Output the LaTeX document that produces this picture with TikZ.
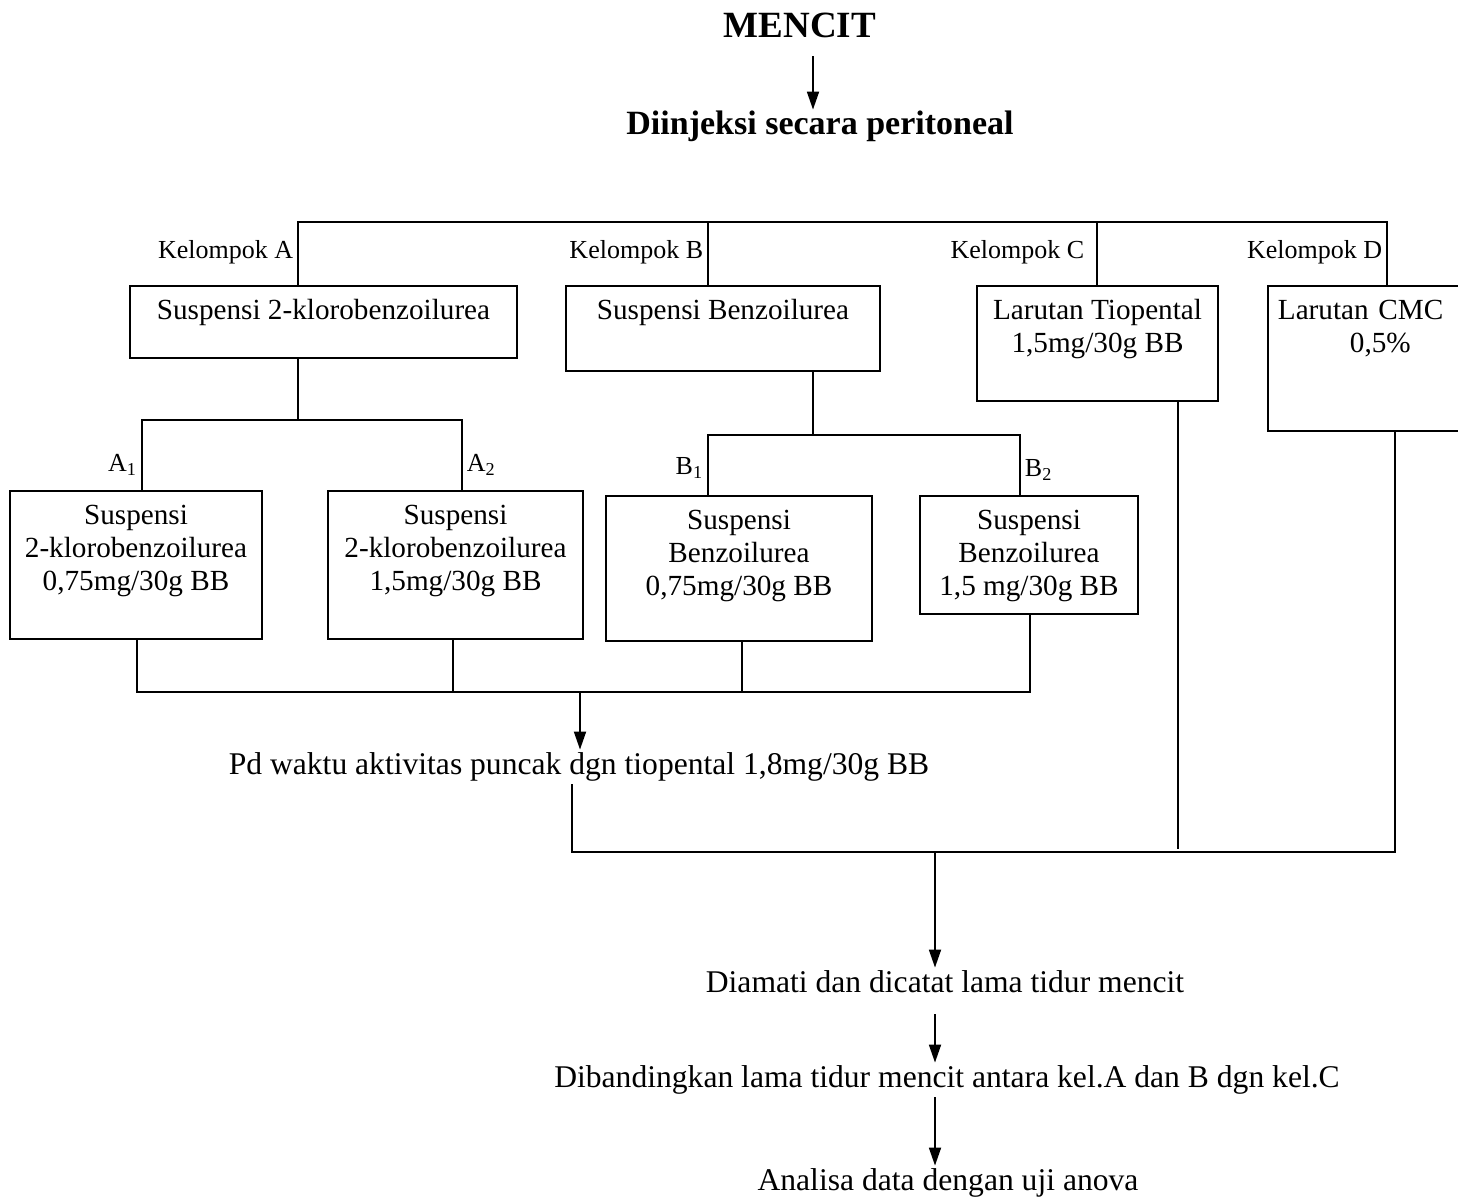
\documentclass[tikz,border=0pt]{standalone}
\usepackage{fontspec}
\setmainfont{Liberation Serif}
\usepackage{tikz}
\usetikzlibrary{arrows.meta}

\begin{document}
\begin{tikzpicture}[x=0.5pt, y=-0.5pt, line width=0.9pt, font=\fontsize{14.6}{16.5}\selectfont,
    box/.style={draw, align=center, anchor=north, inner xsep=5pt, inner ysep=6.5pt, text height=10.5pt},
    twoline/.style={text height=27pt},
    threeline/.style={text height=43.5pt},
    txt/.style={inner sep=1pt, text height=11pt, text depth=3.5pt, font=\fontsize{15.8}{17}\selectfont},
    lbl/.style={font=\fontsize{13}{15}\selectfont, inner sep=2pt, anchor=east},
    arr/.style={-{Triangle[length=9pt, width=6pt]}}]
      \useasboundingbox (0,0) rectangle (1458,1202);

      \node[inner sep=1pt, font=\fontsize{18.5}{20}\selectfont\bfseries] (mencit)    at ( 800,  25) {MENCIT};
      \node[txt, font=\fontsize{17}{19}\selectfont\bfseries]             (diinjeksi) at ( 820, 127) {Diinjeksi secara peritoneal};

      \node[box, minimum width=193.5pt, text depth=12.5pt]            (boxA)  at ( 323.5, 285) {Suspensi 2-klorobenzoilurea};
      \node[box, minimum width=157pt,   text depth=19pt]              (boxB)  at ( 723,   285) {Suspensi Benzoilurea};
      \node[box, twoline, minimum width=120.5pt, text depth=17.5pt]   (boxC)  at (1097.5, 285) {Larutan Tiopental \\ 1,5mg/30g BB};
      \node[box, anchor=north west, text width=110pt, align=left, text depth=49pt]
                                                                      (boxD)  at (1267,   285) {Larutan CMC \\ \hspace*{36pt}0,5\%};

      \node[box, threeline, minimum width=126pt,   text depth=17.5pt] (boxA1) at ( 136,   490) {Suspensi \\ 2-klorobenzoilurea \\ 0,75mg/30g BB};
      \node[box, threeline, minimum width=127.5pt, text depth=17.5pt] (boxA2) at ( 455.5, 490) {Suspensi \\ 2-klorobenzoilurea \\ 1,5mg/30g BB};
      \node[box, threeline, minimum width=133pt,   text depth=16pt]   (boxB1) at ( 739,   495) {Suspensi \\ Benzoilurea \\ 0,75mg/30g BB};
      \node[box, threeline, minimum width=109pt,   text depth=2.5pt]  (boxB2) at (1029,   495) {Suspensi \\ Benzoilurea \\ 1,5 mg/30g BB};

      \node[txt] (pd)           at ( 579,  767) {Pd waktu aktivitas puncak dgn tiopental 1,8mg/30g BB};
      \node[txt] (diamati)      at ( 945,  985) {Diamati dan dicatat lama tidur mencit};
      \node[txt] (dibandingkan) at ( 947, 1080) {Dibandingkan lama tidur mencit antara kel.A dan B dgn kel.C};
      \node[txt] (analisa)      at ( 948, 1183) {Analisa data dengan uji anova};

      \coordinate (busA)   at ( 298, 222);
      \coordinate (busB)   at ( 708, 222);
      \coordinate (busC)   at (1097, 222);
      \coordinate (busD)   at (1387, 222);
      \coordinate (splitA) at ( 298, 420);
      \coordinate (a1top)  at ( 142, 420);
      \coordinate (a2top)  at ( 462, 420);
      \coordinate (splitB) at ( 813, 435);
      \coordinate (b1top)  at ( 708, 435);
      \coordinate (b2top)  at (1020, 435);
      \coordinate (a1bot)  at ( 137, 692);
      \coordinate (a2bot)  at ( 453, 692);
      \coordinate (b1bot)  at ( 742, 692);
      \coordinate (b2bot)  at (1030, 692);
      \coordinate (join1)  at ( 580, 692);
      \coordinate (pdbot)  at ( 572, 852);
      \coordinate (cbot)   at (1178, 849);
      \coordinate (dbot)   at (1395, 852);
      \coordinate (join2)  at ( 935, 852);

      \node[lbl]              (kelA)  at ( 298, 252) {Kelompok A};
      \node[lbl]              (kelB)  at ( 708, 252) {Kelompok B};
      \node[lbl]              (kelC)  at (1089, 252) {Kelompok C};
      \node[lbl]              (kelD)  at (1387, 252) {Kelompok D};
      \node[lbl]              (labA1) at ( 142, 465) {A\textsubscript{1}};
      \node[lbl, anchor=west] (labA2) at ( 462, 465) {A\textsubscript{2}};
      \node[lbl]              (labB1) at ( 708, 468) {B\textsubscript{1}};
      \node[lbl, anchor=west] (labB2) at (1020, 470) {B\textsubscript{2}};

      \draw[arr, shorten <=8pt] (813,0 |- mencit.south) -- (813,0 |- diinjeksi.north);

      \draw[-]  (busA |- boxA.north) -- (busA) -- (busD) -- (busD |- boxD.north);
      \draw[-]  (busB) -- (busB |- boxB.north);
      \draw[-]  (busC) -- (busC |- boxC.north);

      \draw[-]  (splitA |- boxA.south) -- (splitA);
      \draw[-]  (a1top |- boxA1.north) -- (a1top) -- (a2top) -- (a2top |- boxA2.north);
      \draw[-]  (splitB |- boxB.south) -- (splitB);
      \draw[-]  (b1top |- boxB1.north) -- (b1top) -- (b2top) -- (b2top |- boxB2.north);

      \draw[-]  (a1bot |- boxA1.south) -- (a1bot) -- (b2bot) -- (b2bot |- boxB2.south);
      \draw[-]  (a2bot |- boxA2.south) -- (a2bot);
      \draw[-]  (b1bot |- boxB1.south) -- (b1bot);
      \draw[arr] (join1) -- (join1 |- pd.north);

      \draw[-]  (pdbot |- pd.south) -- (pdbot) -- (dbot) -- (dbot |- boxD.south);
      \draw[-]  (cbot |- boxC.south) -- (cbot);
      \draw[arr] (join2) -- (join2 |- diamati.north);
      \draw[arr, shorten <=6pt] (join2 |- diamati.south) -- (join2 |- dibandingkan.north);
      \draw[arr] (join2 |- dibandingkan.south) -- (join2 |- analisa.north);
    \end{tikzpicture}
\end{document}
